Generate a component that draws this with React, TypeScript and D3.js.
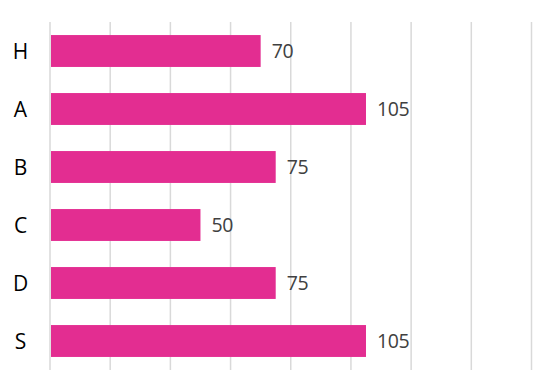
import React from "react";
import * as d3 from "d3";

const categories = ["H", "A", "B", "C", "D", "S"];
const values = [70, 105, 75, 50, 75, 105];
const ticks = [0, 20, 40, 60, 80, 100, 120, 140, 160];

const W = 554;
const H = 392;

export default function App() {
  const x = d3.scaleLinear().domain([0, 160]).range([50, 531.5]);
  const y = d3
    .scaleBand<string>()
    .domain(categories)
    .range([22, 370])
    .paddingInner(0.45)
    .paddingOuter(0.225);
  const font = "'Open Sans', 'Liberation Sans', sans-serif";
  return (
    <svg
      width={W}
      height={H}
      style={{ position: "absolute", left: 0, top: 0, display: "block", background: "#fff" }}
    >
      {ticks.map((t) => (
        <line
          key={t}
          x1={x(t)}
          x2={x(t)}
          y1={22}
          y2={370}
          stroke="#d9d9d9"
          strokeWidth={1.5}
        />
      ))}
      {categories.map((c, i) => {
        const yy = y(c)!;
        const bw = y.bandwidth();
        return (
          <g key={c}>
            <rect x={x(0) + 1} y={yy} width={x(values[i]) - x(0) - 1} height={bw} fill="#E32D91" />
            <text
              x={20.5}
              y={yy + bw / 2}
              dy="0.36em"
              textAnchor="middle"
              fontFamily={font}
              fontSize={21}
              fill="#000"
            >
              {c}
            </text>
            <text
              x={x(values[i]) + 11}
              y={yy + bw / 2}
              dy="0.36em"
              fontFamily={font}
              fontSize={19.5}
              letterSpacing={-0.4}
              fill="#404040"
            >
              {values[i]}
            </text>
          </g>
        );
      })}
    </svg>
  );
}
